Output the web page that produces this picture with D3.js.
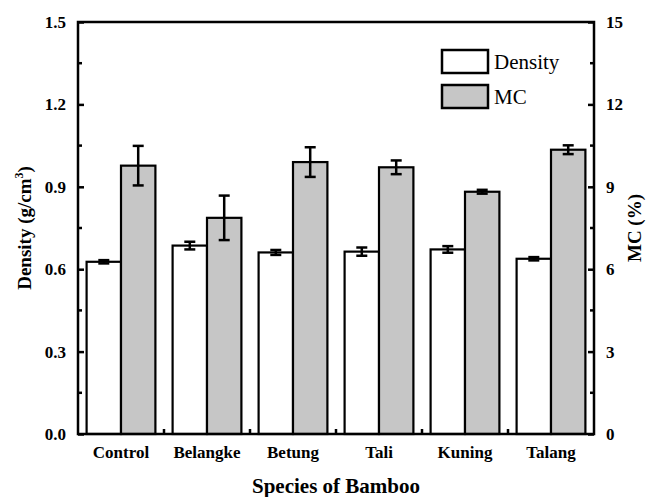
<!DOCTYPE html>
<html>
<head>
<meta charset="utf-8">
<script src="https://cdn.jsdelivr.net/npm/d3@7"></script>
<style>
  body { margin: 0; background: #fff; }
</style>
</head>
<body>
<svg id="chart" width="649" height="497"></svg>
<script>
const species = ['Control', 'Belangke', 'Betung', 'Tali', 'Kuning', 'Talang'];
const density = [0.627, 0.686, 0.661, 0.664, 0.672, 0.638];
const densityErr = [0.006, 0.014, 0.009, 0.015, 0.012, 0.006];
const mc = [9.77, 7.87, 9.90, 9.71, 8.82, 10.35];
const mcErr = [0.72, 0.81, 0.54, 0.25, 0.07, 0.16];
const leftTicks = [0.0, 0.3, 0.6, 0.9, 1.2, 1.5];
const rightTicks = [0, 3, 6, 9, 12, 15];
const series = ['Density', 'MC'];

const FONT = '"Liberation Serif", "Times New Roman", Times, serif';
const svg = d3.select('#chart');
const margin = {top: 22, right: 55, bottom: 63, left: 78};
const W = 649, H = 497;
const innerW = W - margin.left - margin.right;
const innerH = H - margin.top - margin.bottom;
const g = svg.append('g').attr('transform', `translate(${margin.left},${margin.top})`);

const x = d3.scaleBand().domain(species).range([0, innerW]).padding(0);
const xs = d3.scaleBand().domain(series).range([0, x.bandwidth()]).paddingInner(0).paddingOuter(0.25);
const yL = d3.scaleLinear().domain([0, 1.5]).range([innerH, 0]);
const yR = d3.scaleLinear().domain([0, 15]).range([innerH, 0]);

const rows = species.map((s, i) => ({s, d: density[i], de: densityErr[i], m: mc[i], me: mcErr[i]}));

// bars
const grp = g.selectAll('.grp').data(rows).enter().append('g')
  .attr('transform', d => `translate(${x(d.s)},0)`);

grp.append('rect')
  .attr('x', xs('Density')).attr('width', xs.bandwidth())
  .attr('y', d => yL(d.d)).attr('height', d => innerH - yL(d.d))
  .attr('fill', '#fff').attr('stroke', '#000').attr('stroke-width', 2.2);

grp.append('rect')
  .attr('x', xs('MC')).attr('width', xs.bandwidth())
  .attr('y', d => yR(d.m)).attr('height', d => innerH - yR(d.m))
  .attr('fill', '#c6c6c6').attr('stroke', '#000').attr('stroke-width', 2.2);

// error bars
function errBar(sel, cx, yTop, yBot) {
  const cap = 5.5;
  sel.append('line').attr('x1', cx).attr('x2', cx).attr('y1', yTop).attr('y2', yBot);
  sel.append('line').attr('x1', d => cx(d) - cap).attr('x2', d => cx(d) + cap).attr('y1', yTop).attr('y2', yTop);
  sel.append('line').attr('x1', d => cx(d) - cap).attr('x2', d => cx(d) + cap).attr('y1', yBot).attr('y2', yBot);
}
const eb = grp.append('g').attr('stroke', '#000').attr('stroke-width', 2.5);
errBar(eb, () => xs('Density') + xs.bandwidth() / 2, d => yL(d.d + d.de), d => yL(d.d - d.de));
errBar(eb, () => xs('MC') + xs.bandwidth() / 2, d => yR(d.m + d.me), d => yR(d.m - d.me));

// axes
const tickFont = sel => sel.selectAll('text')
  .style('font-family', FONT).style('font-size', '17px').style('font-weight', 'bold').attr('fill', '#000');

const minorL = d3.range(0.15, 1.5, 0.3);
const minorR = d3.range(1.5, 15, 3);

const axL = g.append('g').call(d3.axisLeft(yL).tickValues(leftTicks).tickFormat(d3.format('.1f')).tickSizeInner(-6).tickSizeOuter(0).tickPadding(12));
const axR = g.append('g').attr('transform', `translate(${innerW},0)`)
  .call(d3.axisRight(yR).tickValues(rightTicks).tickFormat(d3.format('d')).tickSizeInner(-6).tickSizeOuter(0).tickPadding(12));
[axL, axR].forEach(a => {
  tickFont(a);
  a.select('.domain').remove();
  a.selectAll('line').attr('stroke-width', 2.5);
});
g.append('g').selectAll('line').data(minorL).enter().append('line')
  .attr('x1', 0).attr('x2', 4).attr('y1', d => yL(d)).attr('y2', d => yL(d))
  .attr('stroke', '#000').attr('stroke-width', 2.5);
g.append('g').selectAll('line').data(minorR).enter().append('line')
  .attr('x1', innerW).attr('x2', innerW - 4).attr('y1', d => yR(d)).attr('y2', d => yR(d))
  .attr('stroke', '#000').attr('stroke-width', 2.5);

const axB = g.append('g').attr('transform', `translate(0,${innerH})`)
  .call(d3.axisBottom(x).tickSize(0).tickPadding(12));
tickFont(axB);
axB.select('.domain').remove();
// small ticks between groups
g.append('g').selectAll('line').data(species.slice(1)).enter().append('line')
  .attr('x1', d => x(d)).attr('x2', d => x(d)).attr('y1', innerH).attr('y2', innerH - 5)
  .attr('stroke', '#000').attr('stroke-width', 2.5);

// frame
g.append('rect').attr('x', 0).attr('y', 0).attr('width', innerW).attr('height', innerH)
  .attr('fill', 'none').attr('stroke', '#000').attr('stroke-width', 2.5);

// axis titles
const titleL = svg.append('text')
  .attr('transform', `translate(31,${margin.top + innerH / 2}) rotate(-90)`)
  .attr('text-anchor', 'middle')
  .style('font-family', FONT).style('font-size', '19px').style('font-weight', 'bold');
titleL.append('tspan').text('Density (g/cm');
titleL.append('tspan').attr('dy', -8).style('font-size', '12px').text('3');
titleL.append('tspan').attr('dy', 8).text(')');

svg.append('text')
  .attr('transform', `translate(641,${margin.top + innerH / 2}) rotate(-90)`)
  .attr('text-anchor', 'middle')
  .style('font-family', FONT).style('font-size', '19px').style('font-weight', 'bold')
  .text('MC (%)');

svg.append('text')
  .attr('x', margin.left + innerW / 2).attr('y', 493)
  .attr('text-anchor', 'middle')
  .style('font-family', FONT).style('font-size', '21px').style('font-weight', 'bold')
  .text('Species of Bamboo');

// legend
const legend = g.append('g').attr('transform', `translate(${442 - margin.left},${50 - margin.top})`);
const legFill = ['#fff', '#c6c6c6'];
series.forEach((s, i) => {
  const row = legend.append('g').attr('transform', `translate(0,${i * 35})`);
  row.append('rect').attr('width', 46).attr('height', 23)
    .attr('fill', legFill[i]).attr('stroke', '#000').attr('stroke-width', 2.5);
  row.append('text').attr('x', 52).attr('y', 19)
    .style('font-family', FONT).style('font-size', '21px').text(s);
});
</script>
</body>
</html>
